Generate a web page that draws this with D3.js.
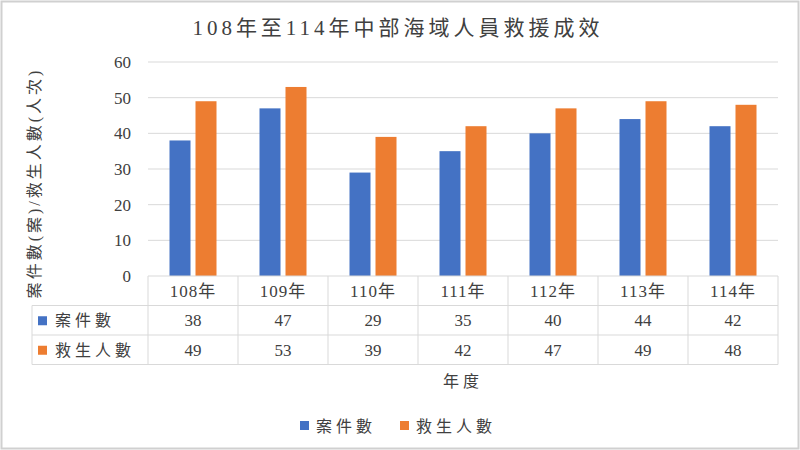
<!DOCTYPE html>
<html>
<head>
<meta charset="utf-8">
<script src="https://cdn.jsdelivr.net/npm/d3@7"></script>
<style>
body { margin: 0; background: #fff; }
svg { font-family: "Liberation Serif", "DejaVu Serif", "Noto Sans CJK TC", serif; }
</style>
</head>
<body>
<div id="chart"></div>
<script>
var width = 800, height = 450;

// data
var years = ["108年", "109年", "110年", "111年", "112年", "113年", "114年"];
var cases = [38, 47, 29, 35, 40, 44, 42];
var rescued = [49, 53, 39, 42, 47, 49, 48];
var seriesNames = ["案件數", "救生人數"];
var colors = ["#4472C4", "#ED7D31"];
var yTicks = [0, 10, 20, 30, 40, 50, 60];

// plot box (note: "top" is reserved on window, so use plotTop)
var plotLeft = 148, plotRight = 778, plotTop = 62, plotBottom = 276;
var tableLeft = 32, rowH = 29.5;

var svg = d3.select("#chart").append("svg")
    .attr("width", width)
    .attr("height", height);

svg.append("rect")
    .attr("x", 1.5).attr("y", 1.5)
    .attr("width", width - 3).attr("height", height - 3)
    .attr("fill", "#fff").attr("stroke", "#d0d0d0").attr("stroke-width", 2);

var x = d3.scaleBand().domain(years).range([plotLeft, plotRight]);
var y = d3.scaleLinear().domain([0, 60]).range([plotBottom, plotTop]);

// gridlines
svg.append("g").selectAll("line")
    .data(yTicks.slice(1))
    .enter().append("line")
      .attr("x1", plotLeft).attr("x2", plotRight)
      .attr("y1", function(d) { return y(d); })
      .attr("y2", function(d) { return y(d); })
      .attr("stroke", "#d9d9d9");

// y ticks
svg.append("g").selectAll("text")
    .data(yTicks)
    .enter().append("text")
      .attr("x", 131)
      .attr("y", function(d) { return y(d) + 6; })
      .attr("text-anchor", "end")
      .attr("font-size", 17)
      .attr("fill", "#404040")
      .text(function(d) { return d; });

// bars
var bw = 21, gap = 5;
var allSeries = [cases, rescued];
allSeries.forEach(function(vals, si) {
  svg.append("g").selectAll("rect")
      .data(vals)
      .enter().append("rect")
        .attr("x", function(d, i) {
          var c = x(years[i]) + x.bandwidth() / 2;
          return si === 0 ? c - gap / 2 - bw : c + gap / 2;
        })
        .attr("y", function(d) { return y(d); })
        .attr("width", bw)
        .attr("height", function(d) { return plotBottom - y(d); })
        .attr("fill", colors[si]);
});

// data table
var tb = svg.append("g").attr("stroke", "#d9d9d9").attr("fill", "none");
var tableBottom = plotBottom + rowH * 3;
[plotBottom, plotBottom + rowH, plotBottom + rowH * 2, tableBottom].forEach(function(yy, i) {
  tb.append("line")
    .attr("x1", i === 0 ? plotLeft : tableLeft).attr("x2", plotRight)
    .attr("y1", yy).attr("y2", yy);
});
tb.append("line").attr("x1", tableLeft).attr("x2", tableLeft)
  .attr("y1", plotBottom + rowH).attr("y2", tableBottom);
years.forEach(function(d) {
  tb.append("line").attr("x1", x(d)).attr("x2", x(d))
    .attr("y1", plotBottom).attr("y2", tableBottom);
});
tb.append("line").attr("x1", plotRight).attr("x2", plotRight)
  .attr("y1", plotBottom).attr("y2", tableBottom);

svg.append("g").selectAll("text")
    .data(years)
    .enter().append("text")
      .attr("x", function(d) { return x(d) + x.bandwidth() / 2; })
      .attr("y", plotBottom + rowH / 2 + 6)
      .attr("text-anchor", "middle")
      .attr("font-size", 17)
      .attr("letter-spacing", 1)
      .attr("fill", "#404040")
      .text(function(d) { return d; });

allSeries.forEach(function(vals, si) {
  var ry = plotBottom + rowH * (si + 1);
  svg.append("g").selectAll("text")
      .data(vals)
      .enter().append("text")
        .attr("x", function(d, i) { return x(years[i]) + x.bandwidth() / 2; })
        .attr("y", ry + rowH / 2 + 6)
        .attr("text-anchor", "middle")
        .attr("font-size", 17)
        .attr("fill", "#404040")
        .text(function(d) { return d; });
  svg.append("rect")
      .attr("x", 38).attr("y", ry + rowH / 2 - 4)
      .attr("width", 9).attr("height", 9)
      .attr("fill", colors[si]);
  svg.append("text")
      .attr("x", 55).attr("y", ry + rowH / 2 + 6)
      .attr("font-size", 16)
      .attr("letter-spacing", 4)
      .attr("fill", "#404040")
      .text(seriesNames[si]);
});

// title
svg.append("text")
    .attr("x", 398).attr("y", 35)
    .attr("text-anchor", "middle")
    .attr("font-size", 21)
    .attr("letter-spacing", 4)
    .attr("fill", "#404040")
    .text("108年至114年中部海域人員救援成效");

// y-axis title
svg.append("text")
    .attr("transform", "translate(40,183) rotate(-90)")
    .attr("text-anchor", "middle")
    .attr("font-size", 16)
    .attr("letter-spacing", 3)
    .attr("fill", "#404040")
    .text("案件數(案)/救生人數(人次)");

// x-axis title
svg.append("text")
    .attr("x", 463).attr("y", 387)
    .attr("text-anchor", "middle")
    .attr("font-size", 16)
    .attr("letter-spacing", 4)
    .attr("fill", "#404040")
    .text("年度");

// legend
var legendX = [300, 400];
seriesNames.forEach(function(name, i) {
  svg.append("rect")
    .attr("x", legendX[i]).attr("y", 421)
    .attr("width", 9).attr("height", 9)
    .attr("fill", colors[i]);
  svg.append("text")
    .attr("x", legendX[i] + 16).attr("y", 432)
    .attr("font-size", 16)
    .attr("letter-spacing", 4)
    .attr("fill", "#404040")
    .text(name);
});
</script>
</body>
</html>
